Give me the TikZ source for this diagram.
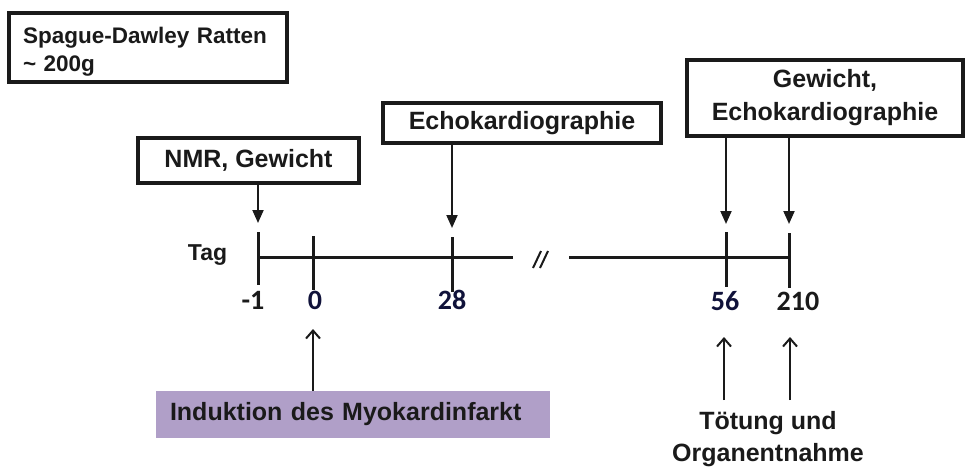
\documentclass[tikz,border=0pt]{standalone}
\usepackage{fontspec}
\setmainfont{Liberation Sans}
\newfontfamily\numfont{Carlito}
\usetikzlibrary{arrows.meta}
\definecolor{ink}{HTML}{1A1A1A}
\definecolor{navy}{HTML}{10123A}
\definecolor{lila}{HTML}{B09FC8}
\begin{document}
\begin{tikzpicture}[x=1pt,y=-1pt,
  box/.style={draw=ink, line width=3.5pt, fill=white, inner sep=0pt, text=ink,
    font=\bfseries\fontsize{25}{33}\selectfont, align=center},
  lbl/.style={inner sep=0pt, text=ink, font=\bfseries\fontsize{25}{32}\selectfont, align=center},
  num/.style={inner sep=0pt, font=\numfont\bfseries\fontsize{28}{30}\selectfont},
  axis/.style={draw=ink, line width=3pt},
  darr/.style={draw=ink, line width=2pt, -{Triangle[length=13pt,width=11pt]}},
  uarr/.style={draw=ink, line width=2pt, -{Straight Barb[length=8pt,width=14pt,line width=2pt]}}
]
\useasboundingbox (0,0) rectangle (965,466);

% boxes
\node[box, minimum width=278pt, minimum height=69pt, text width=250pt, align=left,
  font=\bfseries\fontsize{22.5}{28}\selectfont] (sd) at (148,47.5)
  {\rule{0pt}{25pt}Spague-Dawley Ratten\\\textasciitilde{} 200g};
\node[box, minimum width=221pt, minimum height=45pt] (nmr) at (248.5,160.5) {NMR, Gewicht};
\node[box, minimum width=278pt, minimum height=40pt] (echo) at (522,123) {Echokardiographie};
\node[box, minimum width=276pt, minimum height=76pt] (gew) at (825,98) {Gewicht,\\Echokardiographie};
\node[fill=lila, inner sep=0pt, minimum width=394pt, minimum height=47pt, text width=366pt,
  align=left, text=ink, font=\bfseries\fontsize{25}{30}\selectfont] (ind) at (353,414.5)
  {Induktion des Myokardinfarkt};

% time axis
\coordinate (tk1) at (258,257);
\coordinate (tk0) at (313,257);
\coordinate (tk28) at (452,257);
\coordinate (tk56) at (726,257);
\coordinate (tk210) at (789,257);
\coordinate (gapL) at (513,257);
\coordinate (gapR) at (569,257);
\draw[axis] (tk1) -- (gapL);
\draw[axis] (gapR) -- (tk210);
\draw[axis] (258,232) -- (258,285);
\draw[axis] (313,236) -- (313,290);
\draw[axis] (452,237) -- (452,292);
\draw[axis] (726,232) -- (726,287);
\draw[axis] (789,233) -- (789,288);
\draw[draw=ink, line width=2pt] (533,268) -- (541,251) (540,268) -- (548,251);

\node[inner sep=0pt, text=ink, font=\bfseries\fontsize{23}{27}\selectfont] (tag) at (207.5,255) {Tag};

% numbers
\node[num, text=ink] (n1) at (253,300) {-1};
\node[num, text=navy] (n0) at (315,300) {0};
\node[num, text=navy] (n28) at (452,300) {28};
\node[num, text=navy] (n56) at (725,301) {56};
\node[num, text=ink] (n210) at (798,301) {210};

% down arrows
\draw[darr] (nmr.south -| tk1) -- (258,223);
\draw[darr] (echo.south -| tk28) -- (452,228);
\draw[darr] (gew.south -| tk56) -- (726,224);
\draw[darr] (gew.south -| tk210) -- (789,224);

% bottom labels
\node[lbl] (toet) at (768,439) {T\"otung und\\Organentnahme};

% up arrows
\draw[uarr] (ind.north -| tk0) -- (313,329);
\draw[uarr] (724,400) -- (724,337);
\draw[uarr] (790,400) -- (790,337);
\end{tikzpicture}
\end{document}
